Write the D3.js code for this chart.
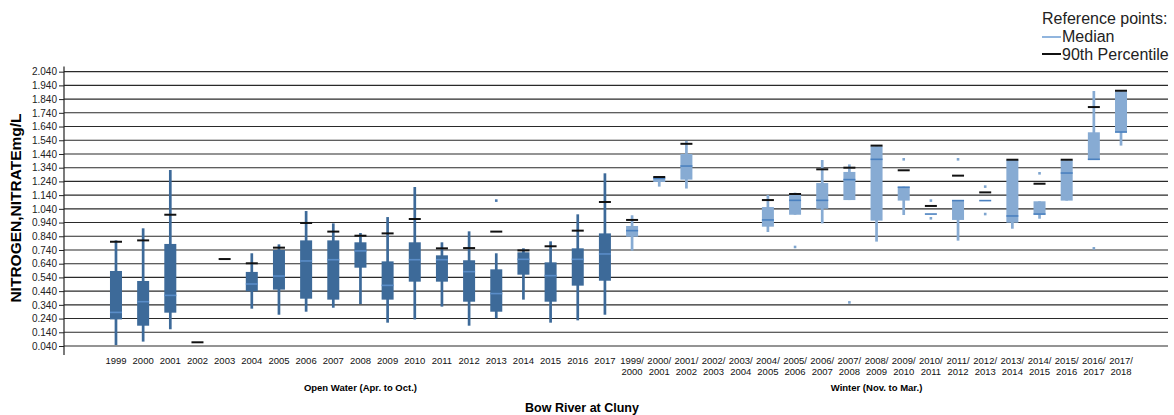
<!DOCTYPE html>
<html>
<head>
<meta charset="utf-8">
<script src="https://cdn.jsdelivr.net/npm/d3@7"></script>
<style>
  html, body { margin: 0; padding: 0; background: #fff; }
  svg { display: block; font-family: "Liberation Sans", Arial, sans-serif; }
</style>
</head>
<body>
<svg id="chart" width="1174" height="415"></svg>
<script>
// Nitrate (mg/L) summary statistics per season, Bow River at Cluny
const categories = [
  "1999", "2000", "2001", "2002", "2003", "2004", "2005", "2006", "2007", "2008",
  "2009", "2010", "2011", "2012", "2013", "2014", "2015", "2016", "2017",
  "1999/2000", "2000/2001", "2001/2002", "2002/2003", "2003/2004", "2004/2005",
  "2005/2006", "2006/2007", "2007/2008", "2008/2009", "2009/2010", "2010/2011",
  "2011/2012", "2012/2013", "2013/2014", "2014/2015", "2015/2016", "2016/2017",
  "2017/2018"
];
const season = [
  "open", "open", "open", "open", "open", "open", "open", "open", "open", "open",
  "open", "open", "open", "open", "open", "open", "open", "open", "open",
  "winter", "winter", "winter", "winter", "winter", "winter", "winter", "winter",
  "winter", "winter", "winter", "winter", "winter", "winter", "winter", "winter",
  "winter", "winter", "winter"
];
const whiskerLow = [
  0.047, 0.072, 0.162, null, null, 0.312, 0.268, 0.290, 0.319, 0.346,
  0.210, 0.234, 0.327, 0.188, 0.242, 0.378, 0.210, 0.227, 0.268,
  0.735, 1.202, 1.188, null, null, 0.871, 0.997, 0.934, 1.104, 0.801,
  0.995, null, 0.808, null, 0.895, 0.968, 1.100, 1.396, 1.501
];
const q1 = [
  0.234, 0.188, 0.283, null, null, 0.439, 0.451, 0.385, 0.378, 0.611,
  0.378, 0.509, 0.509, 0.363, 0.290, 0.560, 0.363, 0.480, 0.516,
  0.837, 1.236, 1.253, null, null, 0.910, 0.997, 1.041, 1.104, 0.954,
  1.100, null, 0.959, null, 0.939, 0.997, 1.100, 1.396, 1.598
];
const median = [
  0.285, 0.363, 0.409, null, null, 0.492, 0.550, 0.660, 0.669, 0.733,
  0.482, 0.669, 0.669, 0.582, 0.422, 0.672, 0.553, 0.672, 0.711,
  0.881, 1.262, 1.352, null, null, 0.959, 1.102, 1.102, 1.253, 1.401,
  1.197, 1.002, 1.100, 1.100, 0.988, 1.002, 1.301, 1.401, 1.600
];
const q3 = [
  0.587, 0.514, 0.784, null, null, 0.580, 0.740, 0.810, 0.810, 0.796,
  0.657, 0.796, 0.701, 0.665, 0.599, 0.723, 0.650, 0.752, 0.861,
  0.915, 1.267, 1.440, null, null, 1.053, 1.141, 1.228, 1.309, 1.496,
  1.202, null, 1.100, null, 1.396, 1.095, 1.394, 1.598, 1.897
];
const whiskerHigh = [
  0.810, 0.898, 1.323, null, null, 0.716, 0.781, 1.024, 0.934, 0.864,
  0.980, 1.199, 0.796, 0.876, 0.716, 0.752, 0.803, 1.000, 1.299,
  0.993, 1.267, 1.535, null, null, 1.141, 1.158, 1.396, 1.364, 1.496,
  1.202, null, 1.100, null, 1.396, 1.095, 1.394, 1.899, 1.897
];
const percentile90 = [
  0.800, 0.810, 0.997, 0.067, 0.674, 0.643, 0.757, 0.937, 0.874, 0.844,
  0.861, 0.966, 0.752, 0.754, 0.874, 0.737, 0.767, 0.881, 1.090,
  0.959, 1.272, 1.514, null, null, 1.104, 1.148, 1.328, 1.340, 1.501,
  1.321, 1.061, 1.282, 1.160, 1.398, 1.223, 1.398, 1.782, 1.901
];
const outliers = [
  [], [], [], [], [], [], [], [], [], [],
  [], [], [], [], [1.100], [], [], [], [],
  [], [], [], [], [], [], [0.762], [], [0.358], [],
  [1.401], [1.100, 0.971], [1.401], [1.202, 1.002], [], [1.299], [], [0.752], []
];
const yTicks = [0.04, 0.14, 0.24, 0.34, 0.44, 0.54, 0.64, 0.74, 0.84, 0.94,
  1.04, 1.14, 1.24, 1.34, 1.44, 1.54, 1.64, 1.74, 1.84, 1.94, 2.04];
const groupLabels = ["Open Water (Apr. to Oct.)", "Winter (Nov. to Mar.)"];

const colors = {
  open:   { box: "#3d6a99", median: "#5a8dc8", dot: "#4a78ad" },
  winter: { box: "#87abd3", median: "#4a80bf", dot: "#7ea5cf" }
};

const svg = d3.select("#chart");
const axisX = 64, plotRight = 1168;
const y = d3.scaleLinear().domain([0.04, 2.04]).range([346, 71.67]);
const x = d3.scaleBand().domain(categories).range([102.4, 1134.6]).padding(0);
const cx = c => x(c) + x.bandwidth() / 2;
const boxW = 12, p90W = 12;

// horizontal grid lines
svg.append("g").selectAll("line").data(yTicks).join("line")
  .attr("x1", axisX).attr("x2", plotRight)
  .attr("y1", d => y(d)).attr("y2", d => y(d))
  .attr("stroke", "#2a2a2a").attr("stroke-width", 1.1);

// y axis with ticks
const yAxis = d3.axisLeft(y).tickValues(yTicks).tickSize(5).tickPadding(2)
  .tickFormat(d3.format(".3f"));
const gy = svg.append("g").attr("transform", `translate(${axisX},0)`).call(yAxis);
gy.select(".domain").remove();
gy.selectAll(".tick line").attr("stroke", "#222");
gy.selectAll(".tick text").attr("font-size", 10).attr("fill", "#222")
  .attr("font-family", "'Liberation Sans', Arial, sans-serif");
svg.append("line").attr("x1", axisX).attr("x2", axisX)
  .attr("y1", 66.5).attr("y2", 355).attr("stroke", "#222").attr("stroke-width", 1.2);

// boxes
const idx = d3.range(categories.length);
const marks = svg.append("g");
idx.forEach(i => {
  const c = categories[i], col = colors[season[i]], xc = cx(c);
  if (whiskerLow[i] != null) {
    marks.append("line").attr("x1", xc).attr("x2", xc)
      .attr("y1", y(whiskerLow[i])).attr("y2", y(whiskerHigh[i]))
      .attr("stroke", col.box).attr("stroke-width", 2.7);
  }
  if (q1[i] != null) {
    marks.append("rect").attr("x", xc - boxW / 2).attr("width", boxW)
      .attr("y", y(q3[i])).attr("height", Math.max(y(q1[i]) - y(q3[i]), 1.5))
      .attr("fill", col.box);
  }
  if (median[i] != null) {
    marks.append("line").attr("x1", xc - boxW / 2).attr("x2", xc + boxW / 2)
      .attr("y1", y(median[i])).attr("y2", y(median[i]))
      .attr("stroke", col.median).attr("stroke-width", 1.6);
  }
  if (percentile90[i] != null) {
    marks.append("line").attr("x1", xc - p90W / 2).attr("x2", xc + p90W / 2)
      .attr("y1", y(percentile90[i])).attr("y2", y(percentile90[i]))
      .attr("stroke", "#111").attr("stroke-width", 2);
  }
  outliers[i].forEach(v => {
    marks.append("rect").attr("x", xc - 1.3).attr("y", y(v) - 1.3)
      .attr("width", 2.6).attr("height", 2.6).attr("fill", col.dot);
  });
});

// category labels
const xl = svg.append("g").attr("font-size", 9.5).attr("fill", "#111")
  .attr("text-anchor", "middle");
categories.forEach(c => {
  const parts = c.split("/");
  const t = xl.append("text").attr("x", cx(c)).attr("y", 364);
  if (parts.length === 1) {
    t.text(c);
  } else {
    t.append("tspan").attr("x", cx(c)).attr("dy", 0).text(parts[0] + "/");
    t.append("tspan").attr("x", cx(c)).attr("dy", 11).text(parts[1]);
  }
});

// group labels
const openCats = categories.filter((c, i) => season[i] === "open");
const winterCats = categories.filter((c, i) => season[i] === "winter");
const mid = arr => (cx(arr[0]) + cx(arr[arr.length - 1])) / 2;
svg.append("text").attr("x", mid(openCats)).attr("y", 391)
  .attr("text-anchor", "middle").attr("font-size", 9.5).attr("font-weight", "bold")
  .text(groupLabels[0]);
svg.append("text").attr("x", mid(winterCats)).attr("y", 391)
  .attr("text-anchor", "middle").attr("font-size", 9.5).attr("font-weight", "bold")
  .text(groupLabels[1]);

// chart title below
svg.append("text").attr("x", 582).attr("y", 412)
  .attr("text-anchor", "middle").attr("font-size", 12.5).attr("font-weight", "bold")
  .text("Bow River at Cluny");

// y axis title
svg.append("text").attr("transform", "translate(21,208) rotate(-90)")
  .attr("text-anchor", "middle").attr("font-size", 15.5).attr("font-weight", "bold")
  .text("NITROGEN,NITRATEmg/L");

// legend
const lg = svg.append("g").attr("font-size", 16).attr("fill", "#222");
lg.append("text").attr("x", 1042).attr("y", 24).text("Reference points:");
lg.append("line").attr("x1", 1042).attr("x2", 1061).attr("y1", 37).attr("y2", 37)
  .attr("stroke", "#6d9dd3").attr("stroke-width", 1.5);
lg.append("text").attr("x", 1062).attr("y", 42).text("Median");
lg.append("line").attr("x1", 1042).attr("x2", 1061).attr("y1", 54).attr("y2", 54)
  .attr("stroke", "#111").attr("stroke-width", 2);
lg.append("text").attr("x", 1062).attr("y", 60).text("90th Percentile");
</script>
</body>
</html>
